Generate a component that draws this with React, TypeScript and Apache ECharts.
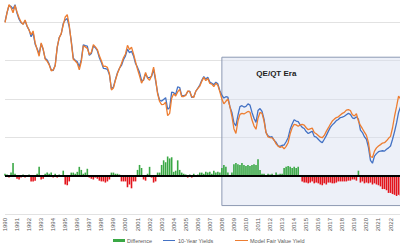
import React, { useEffect, useRef } from "react";
import * as echarts from "echarts";

// bimonthly observations starting Jan 1990 (6 per year)
const START_YEAR = 1990;
const PER_YEAR = 6;
const LAST_LABEL_YEAR = 2022;
const QE_START = 2008;

const tenYear: number[] = [
  8.02, 8.5, 8.88, 8.83, 8.7, 8.92,
  8.47, 8.16, 7.98, 7.91, 8.08, 7.79,
  7.61, 7.25, 7.45, 6.86, 6.62, 6.37,
  6.87, 6.58, 6.12, 6.03, 5.82, 5.53,
  5.48, 5.77, 6.68, 7.21, 7.39, 7.94,
  8.12, 8.2, 7.75, 7.03, 6.13, 6.02,
  5.94, 5.68, 6.05, 6.82, 6.78, 6.76,
  6.28, 6.37, 6.76, 6.68, 6.52, 6.15,
  5.9, 5.6, 5.59, 5.55, 5.27, 4.53,
  4.63, 5.02, 5.37, 5.61, 5.75, 6.05,
  6.25, 6.6, 6.42, 6.49, 6.25, 5.85,
  5.65, 5.39, 4.97, 4.97, 5.31, 5.12,
  5.12, 5.18, 5.54, 4.95, 4.33, 3.93,
  3.89, 3.98, 4.07, 3.47, 3.55, 4.36,
  4.33, 4.24, 4.63, 4.6, 4.17, 4.17,
  4.21, 4.38, 4.41, 4.08, 4.12, 4.39,
  4.56, 4.73, 4.98, 5.17, 5.04, 5.13,
  4.89, 4.82, 4.75, 4.88, 4.79, 4.43,
  4.2, 4.05, 4.12, 4.1, 3.6, 3.3,
  2.75, 2.6, 3.15, 3.6, 3.65, 3.58,
  3.62, 3.75, 3.68, 3.3, 3.0, 2.78,
  3.4, 3.5, 3.35, 2.95, 2.25, 2.08,
  2.01, 2.03, 1.84, 1.74, 1.56, 1.53,
  1.58, 1.6, 1.77, 1.98, 2.42, 2.7,
  2.92, 2.85, 2.82, 2.65, 2.52, 2.46,
  2.3, 2.2, 2.26, 2.32, 2.05, 2.01,
  1.9, 1.79, 1.72, 1.9, 2.09, 2.31,
  2.52, 2.65, 2.75, 2.87, 2.93, 3.03,
  3.05, 3.1, 3.18, 3.25, 3.2, 3.02,
  2.98, 3.07, 2.95, 2.38, 2.25, 2.03,
  1.9, 1.48, 0.8, 0.65, 1.02, 1.15,
  1.25, 1.28, 1.3, 1.28, 1.38, 1.45,
  1.55, 1.9, 2.3, 2.75, 3.3, 3.6,
];

const modelFair: number[] = [
  7.98, 8.5, 8.92, 8.77, 8.5, 8.88,
  8.53, 8.24, 8.02, 7.89, 8.12, 7.81,
  7.59, 7.35, 7.55, 6.94, 6.58, 6.23,
  6.93, 6.62, 6.08, 5.97, 5.78, 5.47,
  5.52, 5.73, 6.72, 7.19, 7.41, 7.86,
  8.28, 8.4, 7.85, 6.97, 6.07, 5.98,
  5.86, 5.52, 5.95, 6.78, 6.72, 6.64,
  6.32, 6.43, 6.84, 6.72, 6.58, 6.25,
  6.0, 5.7, 5.71, 5.65, 5.33, 4.47,
  4.57, 4.98, 5.33, 5.59, 5.85, 6.15,
  6.35, 6.8, 6.58, 6.71, 6.35, 5.95,
  5.55, 5.21, 4.83, 5.03, 5.39, 5.08,
  4.98, 5.22, 5.66, 5.05, 4.27, 3.87,
  3.71, 3.72, 3.83, 3.13, 3.25, 4.04,
  4.27, 4.16, 4.37, 4.5, 4.13, 4.13,
  4.19, 4.42, 4.39, 4.12, 4.08, 4.41,
  4.54, 4.67, 4.92, 5.13, 4.96, 5.07,
  4.81, 4.78, 4.65, 4.82, 4.71, 4.37,
  4.0, 3.75, 3.88, 4.0, 3.6, 3.1,
  2.45, 2.2, 2.85, 3.2, 3.25, 3.22,
  3.28, 3.35, 3.32, 2.9, 2.6, 2.42,
  3.0, 3.3, 3.25, 2.85, 2.25, 2.02,
  1.99, 1.97, 1.86, 1.66, 1.54, 1.47,
  1.52, 1.4, 1.53, 1.72, 2.18, 2.5,
  2.68, 2.65, 2.58, 2.65, 2.68, 2.64,
  2.5, 2.4, 2.44, 2.48, 2.25, 2.19,
  2.1, 2.01, 1.98, 2.1, 2.31, 2.49,
  2.68, 2.85, 2.95, 3.03, 3.07, 3.17,
  3.25, 3.3, 3.42, 3.45, 3.4, 3.18,
  3.12, 3.23, 2.85, 2.62, 2.45, 2.27,
  2.1, 1.72, 1.0, 0.95, 1.28, 1.45,
  1.55, 1.62, 1.7, 1.72, 1.82, 1.95,
  2.05, 2.5, 3.1, 3.6, 4.15, 4.0,
];

const difference: number[] = [
  0.05, 0.03, -0.05, 0.08, 0.33, 0.05,
  -0.08, -0.1, -0.05, 0.03, -0.05, -0.03,
  0.03, -0.15, -0.15, -0.13, 0.05, 0.23,
  -0.1, -0.08, 0.05, 0.08, 0.05, 0.08,
  -0.05, 0.05, -0.05, 0.03, -0.03, 0.13,
  -0.23, -0.25, -0.15, 0.08, 0.08, 0.05,
  0.1, 0.23, 0.15, 0.05, 0.08, 0.18,
  -0.05, -0.08, -0.1, -0.05, -0.08, -0.13,
  -0.15, -0.15, -0.18, -0.15, -0.1, 0.08,
  0.08, 0.05, 0.05, 0.03, -0.15, -0.15,
  -0.15, -0.3, -0.23, -0.33, -0.15, -0.15,
  0.15, 0.28, 0.2, -0.1, -0.13, 0.05,
  0.23, -0.05, -0.18, -0.15, 0.08, 0.08,
  0.28, 0.4, 0.35, 0.5, 0.45, 0.48,
  0.1, 0.13, 0.4, 0.15, 0.08, 0.05,
  0.03, -0.05, 0.03, -0.05, 0.05, -0.03,
  0.03, 0.08, 0.08, 0.05, 0.1, 0.08,
  0.1, 0.05, 0.13, 0.08, 0.1, 0.08,
  0.2, 0.28, 0.23, 0.08, -0.03, 0.08,
  0.3, 0.33, 0.3, 0.28, 0.33, 0.28,
  0.25, 0.28, 0.25, 0.28, 0.3, 0.28,
  0.43, 0.15, 0.05, 0.05, -0.03, 0.05,
  0.03, 0.05, -0.03, 0.08, 0.03, 0.05,
  0.05, 0.2, 0.23, 0.25, 0.23, 0.2,
  0.23, 0.2, 0.23, 0, -0.15, -0.18,
  -0.18, -0.2, -0.18, -0.15, -0.2, -0.18,
  -0.2, -0.23, -0.25, -0.2, -0.23, -0.18,
  -0.18, -0.2, -0.2, -0.18, -0.15, -0.15,
  -0.15, -0.15, -0.15, -0.13, -0.13, -0.1,
  -0.1, -0.13, 0.13, -0.18, -0.15, -0.2,
  -0.18, -0.2, -0.18, -0.23, -0.2, -0.23,
  -0.25, -0.28, -0.35, -0.35, -0.38, -0.45,
  -0.45, -0.48, -0.5, -0.53, -0.5, -0.53,
];

const BLUE = "#4472c4";
const ORANGE = "#ed7d31";
const GREEN = "#3aa845";
const RED = "#e3141c";
const FONT = "Liberation Sans";

export default function App() {
  const ref = useRef<HTMLDivElement>(null);
  useEffect(() => {
    if (!ref.current) return;
    const chart = echarts.init(ref.current, undefined, { renderer: "svg" });
    const t = (k: number) => START_YEAR + k / PER_YEAR;
    const xMax = 2023.2;
    chart.setOption({
      animation: false,
      backgroundColor: "#ffffff",
      textStyle: { fontFamily: FONT },
      grid: { left: 5, right: -5, top: -16, bottom: 36, outerBoundsMode: "none", containLabel: false },
      xAxis: {
        type: "value",
        min: START_YEAR,
        max: xMax,
        interval: 1,
        axisLine: { show: false },
        axisTick: { show: false },
        splitLine: { show: false },
        axisLabel: {
          rotate: 90,
          fontSize: 6,
          color: "#595959",
          margin: 4,
          fontFamily: FONT,
          formatter: (v: number) =>
            Number.isInteger(v) && v <= LAST_LABEL_YEAR ? String(v) : "",
        },
      },
      yAxis: [
        {
          type: "value",
          min: -2,
          max: 10,
          interval: 2,
          axisLine: { show: false },
          axisTick: { show: false },
          axisLabel: { show: false },
          splitLine: { lineStyle: { color: "#e2e2e2", width: 1 } },
        },
        {
          type: "value",
          min: -1,
          max: 5,
          interval: 1,
          show: false,
          splitLine: { show: false },
        },
      ],
      series: [
        {
          name: "Difference",
          type: "bar",
          yAxisIndex: 1,
          barWidth: 1.6,
          data: difference.map((d, k) => [t(k), d]),
          itemStyle: {
            color: (p: any) => (p.value[1] >= 0 ? GREEN : RED),
          },
          markLine: {
            silent: true,
            symbol: ["none", "none"],
            label: { show: false },
            lineStyle: { color: "#000000", width: 2, type: "solid" },
            data: [{ yAxis: 0 }],
          },
          z: 3,
        },
        {
          name: "10-Year Yields",
          type: "line",
          showSymbol: false,
          data: tenYear.map((v, k) => [t(k), v]),
          lineStyle: { color: BLUE, width: 1.3 },
          itemStyle: { color: BLUE },
          z: 4,
          markArea: {
            silent: true,
            itemStyle: {
              color: "rgba(214,222,240,0.45)",
              borderColor: "#8d99b3",
              borderWidth: 1,
            },
            label: {
              show: true,
              position: [35, 13],
              formatter: "QE/QT Era",
              fontSize: 8,
              fontWeight: "bold",
              color: "#222222",
              fontFamily: FONT,
            },
            data: [[{ xAxis: QE_START, yAxis: 6.18 }, { xAxis: xMax, yAxis: -1.56 }]],
          },
        },
        {
          name: "Model Fair Value Yield",
          type: "line",
          showSymbol: false,
          data: modelFair.map((v, k) => [t(k), v]),
          lineStyle: { color: ORANGE, width: 1.3 },
          itemStyle: { color: ORANGE },
          z: 5,
        },
      ],
      graphic: [
        { type: "rect", shape: { x: 113, y: 239, width: 12, height: 3 }, style: { fill: GREEN } },
        { type: "text", x: 127, y: 240.5, style: { text: "Difference", fontSize: 5.5, fill: "#595959", fontFamily: FONT, verticalAlign: "middle" } },
        { type: "line", shape: { x1: 163, y1: 240.5, x2: 175, y2: 240.5 }, style: { stroke: BLUE, lineWidth: 1 } },
        { type: "text", x: 178, y: 240.5, style: { text: "10-Year Yields", fontSize: 5.5, fill: "#595959", fontFamily: FONT, verticalAlign: "middle" } },
        { type: "line", shape: { x1: 235, y1: 240.5, x2: 248, y2: 240.5 }, style: { stroke: ORANGE, lineWidth: 1 } },
        { type: "text", x: 250, y: 240.5, style: { text: "Model Fair Value Yield", fontSize: 5.5, fill: "#595959", fontFamily: FONT, verticalAlign: "middle" } },
      ],
    });
    return () => chart.dispose();
  }, []);
  return (
    <div
      ref={ref}
      style={{ position: "fixed", left: 0, top: 0, width: 400, height: 250 }}
    />
  );
}
